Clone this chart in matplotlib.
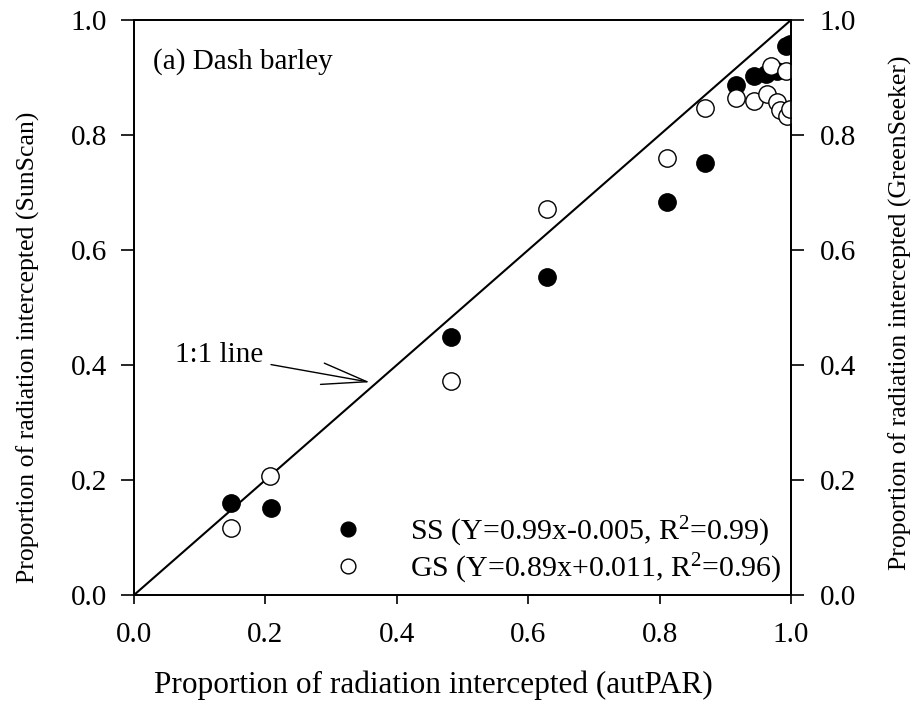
import matplotlib
matplotlib.use("Agg")
import matplotlib.pyplot as plt

plt.rcParams['font.family'] = ['Liberation Serif', 'DejaVu Serif']
plt.rcParams['mathtext.fontset'] = 'custom'
plt.rcParams['mathtext.rm'] = 'Liberation Serif'
plt.rcParams['mathtext.it'] = 'Liberation Serif:italic'

ss_x = [0.147, 0.208, 0.4825, 0.628, 0.811, 0.869, 0.917, 0.944, 0.962, 0.978, 0.993, 0.999]
ss_y = [0.160, 0.151, 0.448, 0.553, 0.684, 0.751, 0.887, 0.903, 0.906, 0.912, 0.955, 0.958]

gs_x = [0.147, 0.2075, 0.4825, 0.628, 0.811, 0.869, 0.917, 0.943, 0.964, 0.970, 0.979, 0.983, 0.992, 0.994, 0.998]
gs_y = [0.117, 0.207, 0.372, 0.672, 0.760, 0.847, 0.864, 0.860, 0.872, 0.920, 0.858, 0.843, 0.911, 0.833, 0.845]

ticks = [0.0, 0.2, 0.4, 0.6, 0.8, 1.0]
tick_labels = ['0.0', '0.2', '0.4', '0.6', '0.8', '1.0']

ss_label = 'SS (Y=0.99x-0.005, R$^2$=0.99)'
gs_label = 'GS (Y=0.89x+0.011, R$^2$=0.96)'

FS = 21      # horizontal text
FSR = 18.5   # rotated axis labels

fig = plt.figure(figsize=(9.18, 7.04), dpi=100)
ax = fig.add_axes([134/918, 1-595/704, (791-134)/918, (595-20)/704])

ax.plot([0, 1], [0, 1], color='black', lw=1.5, zorder=1)
ax.plot(ss_x, ss_y, 'o', ms=12.5, mfc='black', mec='black', mew=1.0, zorder=2, label=ss_label)
ax.plot(gs_x, gs_y, 'o', ms=12.5, mfc='white', mec='black', mew=1.0, zorder=3, label=gs_label)

ax.set_xlim(0, 1)
ax.set_ylim(0, 1)
ax.set_xticks(ticks)
ax.set_xticklabels(tick_labels)
ax.set_yticks(ticks)
ax.set_yticklabels(tick_labels)
ax.tick_params(axis='x', direction='out', length=6.5, width=1.2, labelsize=FS, pad=13)
ax.tick_params(axis='y', direction='out', length=9.5, width=1.2, labelsize=FS, pad=10)
for s in ax.spines.values():
    s.set_linewidth(1.3)

ax2 = ax.twinx()
ax2.set_ylim(0, 1)
ax2.set_yticks(ticks)
ax2.set_yticklabels(tick_labels)
ax2.tick_params(axis='y', direction='out', length=9.5, width=1.2, labelsize=FS, pad=11)
for s in ax2.spines.values():
    s.set_linewidth(1.3)

ax.set_xlabel('Proportion of radiation intercepted (autPAR)', fontsize=22.5)
ax.xaxis.set_label_coords(0.455, -0.157)
ax.xaxis.label.set_verticalalignment('center')

ax.set_ylabel('Proportion of radiation intercepted (SunScan)', fontsize=FSR)
ax.yaxis.set_label_coords(-0.161, 0.431)
ax.yaxis.label.set_verticalalignment('center')

ax2.set_ylabel('Proportion of radiation intercepted (GreenSeeker)', fontsize=FSR)
ax2.yaxis.set_label_coords(1.167, 0.49)
ax2.yaxis.label.set_verticalalignment('center')

ax.text(0.029, 0.927, '(a) Dash barley', fontsize=FS, ha='left', va='center', transform=ax.transAxes)

ax.annotate('1:1 line', xy=(0.359, 0.370), xytext=(0.196, 0.417),
            fontsize=FS, ha='right', va='center',
            arrowprops=dict(arrowstyle='->,head_length=1.55,head_width=0.37', color='black', lw=1.0,
                            shrinkA=4, shrinkB=0))

leg = ax.legend(loc='center left', bbox_to_anchor=(0.3035, 0.078), frameon=False, fontsize=21.5,
                handlelength=1.0, handletextpad=1.55, labelspacing=0.08, borderaxespad=0,
                borderpad=0, markerscale=0.85)

fig.savefig('out.png', dpi=100)
